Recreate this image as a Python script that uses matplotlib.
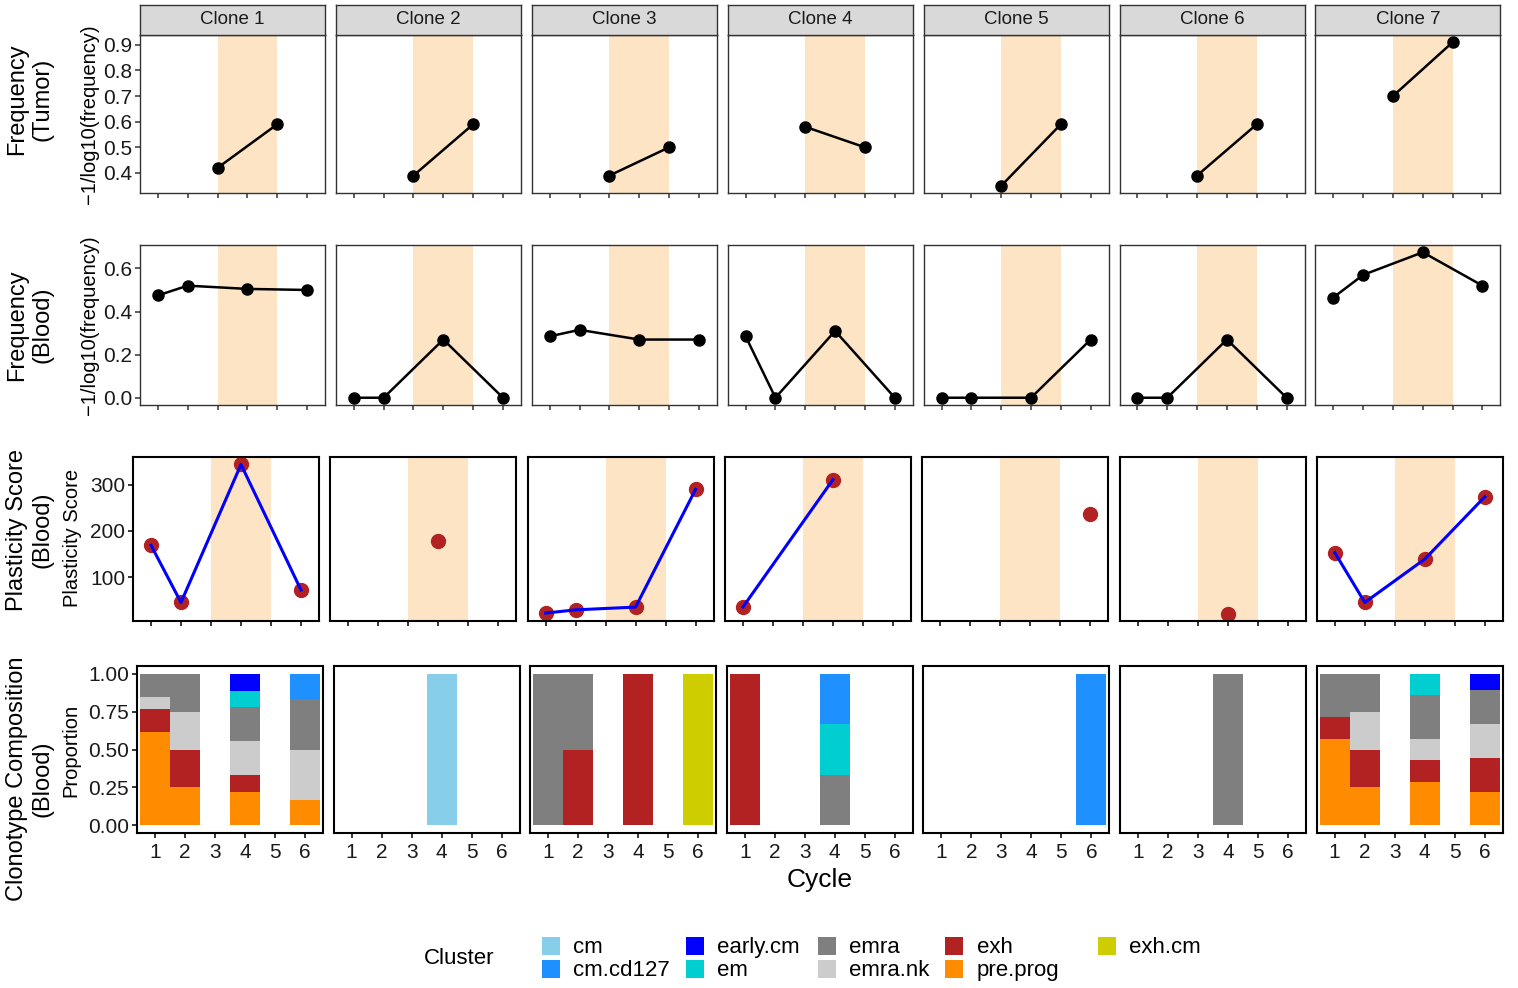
import matplotlib
matplotlib.use("Agg")
import matplotlib.pyplot as plt
import numpy as np
from matplotlib.patches import Rectangle

plt.rcParams['font.family'] = ['Liberation Sans', 'DejaVu Sans']

# ---------------- data ----------------
clones = ["Clone 1", "Clone 2", "Clone 3", "Clone 4", "Clone 5", "Clone 6", "Clone 7"]
cycle_ticks = [1, 2, 3, 4, 5, 6]
shade_span = [3, 5]

tumor_cycles = [3, 5]
tumor_freq = [
    [0.42, 0.59], [0.39, 0.59], [0.39, 0.50], [0.58, 0.50],
    [0.35, 0.59], [0.39, 0.59], [0.70, 0.91],
]

blood_cycles = [1, 2, 4, 6]
blood_freq = [
    [0.475, 0.52, 0.505, 0.50],
    [0.0, 0.0, 0.27, 0.0],
    [0.285, 0.315, 0.27, 0.27],
    [0.285, 0.0, 0.31, 0.0],
    [0.0, 0.0, 0.0, 0.27],
    [0.0, 0.0, 0.27, 0.0],
    [0.465, 0.57, 0.675, 0.52],
]

nan = np.nan
plast_cycles = [1, 2, 4, 6]
plast_score = [
    [169, 45, 344, 72],
    [nan, nan, 178, nan],
    [22, 29, 35, 290],
    [35, nan, 311, nan],
    [nan, nan, nan, 237],
    [nan, nan, 21, nan],
    [153, 45, 139, 274],
]

clusters = ["cm", "cm.cd127", "early.cm", "em", "emra", "emra.nk", "exh", "exh.cm", "pre.prog"]
cluster_colors = ["#87CEEB", "#1E90FF", "#0000FF", "#00CED1", "#7F7F7F",
                  "#CCCCCC", "#B22222", "#CDCD00", "#FF8C00"]

comp_cycles = [1, 2, 4, 6]
# per clone: one row per cycle (1,2,4,6), columns follow `clusters`
comp_clone1 = [[0, 0, 0, 0, .154, .077, .154, 0, .615],
               [0, 0, 0, 0, .25, .25, .25, 0, .25],
               [0, 0, .111, .111, .222, .222, .111, 0, .222],
               [0, .167, 0, 0, .333, .333, 0, 0, .167]]
comp_clone2 = [[0, 0, 0, 0, 0, 0, 0, 0, 0],
               [0, 0, 0, 0, 0, 0, 0, 0, 0],
               [1, 0, 0, 0, 0, 0, 0, 0, 0],
               [0, 0, 0, 0, 0, 0, 0, 0, 0]]
comp_clone3 = [[0, 0, 0, 0, 1, 0, 0, 0, 0],
               [0, 0, 0, 0, .5, 0, .5, 0, 0],
               [0, 0, 0, 0, 0, 0, 1, 0, 0],
               [0, 0, 0, 0, 0, 0, 0, 1, 0]]
comp_clone4 = [[0, 0, 0, 0, 0, 0, 1, 0, 0],
               [0, 0, 0, 0, 0, 0, 0, 0, 0],
               [0, .333, 0, .333, .334, 0, 0, 0, 0],
               [0, 0, 0, 0, 0, 0, 0, 0, 0]]
comp_clone5 = [[0, 0, 0, 0, 0, 0, 0, 0, 0],
               [0, 0, 0, 0, 0, 0, 0, 0, 0],
               [0, 0, 0, 0, 0, 0, 0, 0, 0],
               [0, 1, 0, 0, 0, 0, 0, 0, 0]]
comp_clone6 = [[0, 0, 0, 0, 0, 0, 0, 0, 0],
               [0, 0, 0, 0, 0, 0, 0, 0, 0],
               [0, 0, 0, 0, 1, 0, 0, 0, 0],
               [0, 0, 0, 0, 0, 0, 0, 0, 0]]
comp_clone7 = [[0, 0, 0, 0, .286, 0, .143, 0, .571],
               [0, 0, 0, 0, .25, .25, .25, 0, .25],
               [0, 0, 0, .143, .286, .143, .143, 0, .285],
               [0, 0, .111, 0, .222, .222, .222, 0, .223]]
comp_all = [comp_clone1, comp_clone2, comp_clone3, comp_clone4,
            comp_clone5, comp_clone6, comp_clone7]

legend_layout = ["cm", "cm.cd127", "early.cm", "em", "emra", "emra.nk", "exh", "pre.prog", "exh.cm"]

# ---------------- layout helpers ----------------
W, H = 1518, 988
fig = plt.figure(figsize=(W / 100, H / 100), dpi=100)

def ax_px(x0, y0, w, h):
    return fig.add_axes([x0 / W, 1 - (y0 + h) / H, w / W, h / H])

def fx(x):
    return x / W

def fy(y):
    return 1 - y / H

SHADE = "#FDE4C4"
TICK_FS = 15
XLIM = (0.4, 6.6)

def padded(lo, hi):
    r = hi - lo
    return lo - 0.05 * r, hi + 0.05 * r

def style_axis(ax, first, edge, lw, xlabels=False):
    for s in ax.spines.values():
        s.set_color(edge)
        s.set_linewidth(lw)
    ax.set_xlim(*XLIM)
    ax.set_xticks(cycle_ticks)
    ax.tick_params(axis="both", length=3.6, width=1.1, color=edge,
                   labelsize=TICK_FS, labelcolor="#1A1A1A", pad=2)
    ax.tick_params(axis="x", pad=3.5)
    if not xlabels:
        ax.set_xticklabels([])
    if not first:
        ax.tick_params(axis="y", left=False, labelleft=False)

# ---------------- row 1: tumor frequency ----------------
t_lo, t_hi = padded(min(min(v) for v in tumor_freq), max(max(v) for v in tumor_freq))
for i, name in enumerate(clones):
    x0 = 140 + i * 195.9
    ax = ax_px(x0, 35, 185, 158)
    ax.axvspan(*shade_span, color=SHADE, lw=0, zorder=0)
    ax.plot(tumor_cycles, tumor_freq[i], color="black", lw=1.8, zorder=2)
    ax.plot(tumor_cycles, tumor_freq[i], "o", color="black", ms=8, zorder=3)
    ax.set_ylim(t_lo, t_hi)
    ax.set_yticks([0.4, 0.5, 0.6, 0.7, 0.8, 0.9])
    style_axis(ax, i == 0, "#333333", 1.0)
    # strip
    sax = ax_px(x0, 5, 185, 30)
    sax.set_facecolor("#D9D9D9")
    sax.set_xticks([]); sax.set_yticks([])
    for s in sax.spines.values():
        s.set_color("#333333"); s.set_linewidth(1.0)
    sax.text(0.5, 0.5, name, ha="center", va="center", fontsize=13.5,
             color="#1A1A1A", transform=sax.transAxes)

# ---------------- row 2: blood frequency ----------------
b_lo, b_hi = padded(min(min(v) for v in blood_freq), max(max(v) for v in blood_freq))
for i in range(len(clones)):
    x0 = 140 + i * 195.9
    ax = ax_px(x0, 245, 185, 160)
    ax.axvspan(*shade_span, color=SHADE, lw=0, zorder=0)
    ax.plot(blood_cycles, blood_freq[i], color="black", lw=1.8, zorder=2)
    ax.plot(blood_cycles, blood_freq[i], "o", color="black", ms=8, zorder=3)
    ax.set_ylim(b_lo, b_hi)
    ax.set_yticks([0.0, 0.2, 0.4, 0.6])
    style_axis(ax, i == 0, "#333333", 1.0)

# ---------------- row 3: plasticity ----------------
allp = np.array(plast_score, dtype=float)
p_lo, p_hi = padded(np.nanmin(allp), np.nanmax(allp))
for i in range(len(clones)):
    x0 = 133 + i * 197.3
    ax = ax_px(x0, 457, 186, 164)
    ax.axvspan(*shade_span, color=SHADE, lw=0, zorder=0)
    xs = np.array(plast_cycles, dtype=float)
    ys = np.array(plast_score[i], dtype=float)
    ok = ~np.isnan(ys)
    ax.plot(xs[ok], ys[ok], "o", color="#B22222", ms=10, zorder=2)
    if ok.sum() > 1:
        ax.plot(xs[ok], ys[ok], color="#0000FF", lw=2.2, zorder=3)
    ax.set_ylim(p_lo, p_hi)
    ax.set_yticks([100, 200, 300])
    style_axis(ax, i == 0, "black", 1.5)

# ---------------- row 4: composition ----------------
for i in range(len(clones)):
    x0 = 137 + i * 196.6
    ax = ax_px(x0, 666, 186, 167)
    data = np.array(comp_all[i], dtype=float)
    bottom = np.zeros(len(comp_cycles))
    for k in reversed(range(len(clusters))):
        vals = data[:, k]
        ax.bar(comp_cycles, vals, bottom=bottom, width=1.0,
               color=cluster_colors[k], linewidth=0)
        bottom += vals
    ax.set_ylim(-0.05, 1.05)
    ax.set_yticks([0.0, 0.25, 0.5, 0.75, 1.0])
    ax.set_yticklabels(["0.00", "0.25", "0.50", "0.75", "1.00"])
    style_axis(ax, i == 0, "black", 1.5, xlabels=True)

# ---------------- axis labels ----------------
OUT_FS = 17
IN_FS = 14.5
fig.text(fx(30), fy(99), "Frequency\n(Tumor)", rotation=90, ha="center", va="center",
         fontsize=OUT_FS, multialignment="center")
fig.text(fx(89), fy(114), "\u22121/log10(frequency)", rotation=90, ha="center", va="center",
         fontsize=IN_FS)
fig.text(fx(30), fy(325), "Frequency\n(Blood)", rotation=90, ha="center", va="center",
         fontsize=OUT_FS, multialignment="center")
fig.text(fx(89), fy(325), "\u22121/log10(frequency)", rotation=90, ha="center", va="center",
         fontsize=IN_FS)
fig.text(fx(30), fy(530), "Plasticity Score\n(Blood)", rotation=90, ha="center", va="center",
         fontsize=OUT_FS, multialignment="center")
fig.text(fx(72), fy(538), "Plasticity Score", rotation=90, ha="center", va="center",
         fontsize=IN_FS)
fig.text(fx(30), fy(779), "Clonotype Composition\n(Blood)", rotation=90, ha="center",
         va="center", fontsize=OUT_FS, multialignment="center")
fig.text(fx(71), fy(750), "Proportion", rotation=90, ha="center", va="center",
         fontsize=IN_FS)
fig.text(fx(820), fy(880), "Cycle", ha="center", va="center", fontsize=19)

# ---------------- legend ----------------
LEG_FS = 16
fig.text(fx(424), fy(958), "Cluster", ha="left", va="center", fontsize=LEG_FS)
key_x = [542, 686, 818, 945, 1098]
lab_x = [573, 717, 849, 977, 1129]
row_y = [937, 960]
for j, name in enumerate(legend_layout):
    col, row = j // 2, j % 2
    color = cluster_colors[clusters.index(name)]
    ky = row_y[row]
    fig.add_artist(Rectangle((fx(key_x[col]), fy(ky + 18)), 18 / W, 18 / H,
                             transform=fig.transFigure, facecolor=color, lw=0))
    fig.text(fx(lab_x[col]), fy(ky + 10), name, ha="left", va="center", fontsize=LEG_FS)

fig.savefig("out.png", dpi=100)
